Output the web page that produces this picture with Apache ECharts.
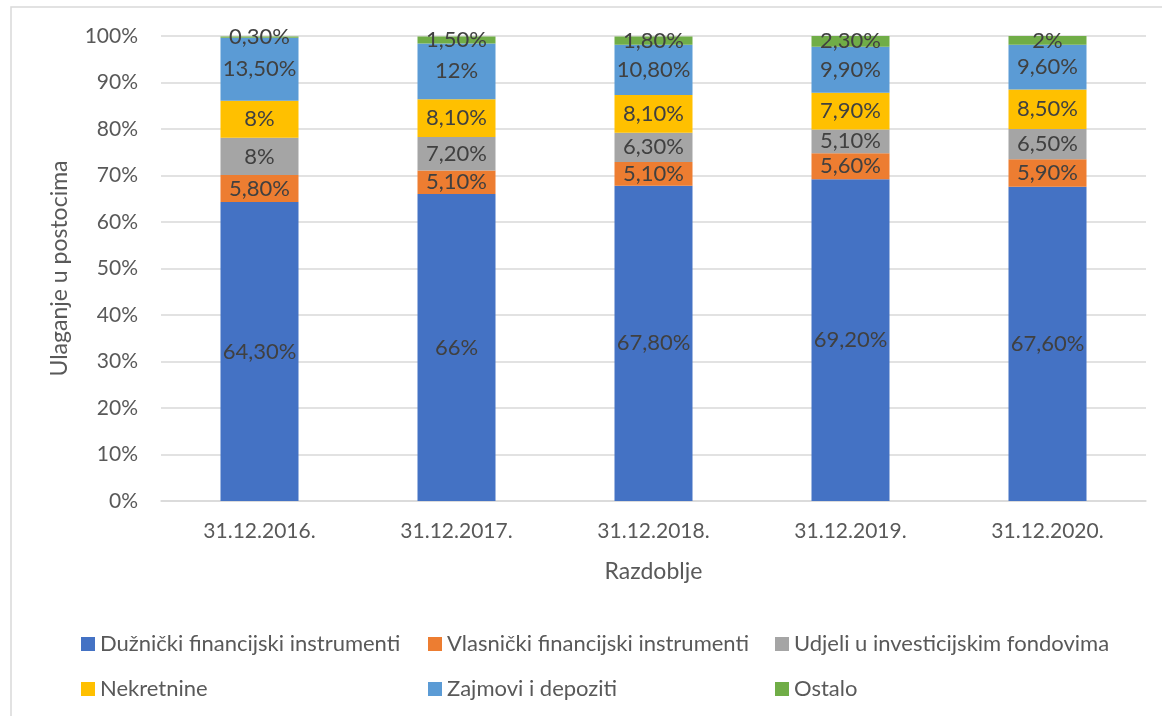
<!DOCTYPE html>
<html>

<head>
  <meta charset="utf-8">
  <title>Ulaganje u postocima</title>
  <script src="https://cdn.jsdelivr.net/npm/echarts@6/dist/echarts.min.js"></script>
  <style>
    body {
      margin: 0;
      padding: 0;
      background-color: #fff;
    }

    #main {
      width: 1162px;
      height: 716px;
    }
  </style>
</head>

<body>
  <div id="main"></div>

  <script type="text/javascript">
    var categories = ['31.12.2016.', '31.12.2017.', '31.12.2018.', '31.12.2019.', '31.12.2020.'];
    var seriesNames = [
      'Dužnički financijski instrumenti',
      'Vlasnički financijski instrumenti',
      'Udjeli u investicijskim fondovima',
      'Nekretnine',
      'Zajmovi i depoziti',
      'Ostalo'
    ];
    var duznicki = [64.3, 66, 67.8, 69.2, 67.6];
    var vlasnicki = [5.8, 5.1, 5.1, 5.6, 5.9];
    var udjeli = [8, 7.2, 6.3, 5.1, 6.5];
    var nekretnine = [8, 8.1, 8.1, 7.9, 8.5];
    var zajmovi = [13.5, 12, 10.8, 9.9, 9.6];
    var ostalo = [0.3, 1.5, 1.8, 2.3, 2];
    var yTicks = [0, 10, 20, 30, 40, 50, 60, 70, 80, 90, 100];

    var colors = ['#4472C4', '#ED7D31', '#A5A5A5', '#FFC000', '#5B9BD5', '#70AD47'];
    var font = 'Lato, "Open Sans", sans-serif';

    // 64.3 -> "64,30%", 66 -> "66%"
    function fmt(v) {
      if (Number.isInteger(v)) return v + '%';
      return v.toFixed(2).replace('.', ',') + '%';
    }

    var allData = [duznicki, vlasnicki, udjeli, nekretnine, zajmovi, ostalo];
    var series = [];
    for (var i = 0; i < allData.length; i++) {
      series.push({
        name: seriesNames[i],
        type: 'bar',
        stack: 'total',
        barWidth: 78,
        data: allData[i],
        itemStyle: { color: colors[i] },
        label: {
          show: true,
          position: 'inside',
          color: '#404040',
          fontFamily: font,
          fontSize: 22,
          formatter: function (p) { return fmt(p.value); }
        }
      });
    }

    function legendBlock(left, names) {
      return {
        orient: 'vertical',
        left: left,
        top: 628,
        itemGap: 23,
        itemWidth: 14,
        itemHeight: 14,
        icon: 'rect',
        data: names,
        textStyle: { color: '#595959', fontFamily: font, fontSize: 22 }
      };
    }

    var chart = echarts.init(document.getElementById('main'));
    chart.setOption({
      animation: false,
      backgroundColor: '#fff',
      graphic: [{
        type: 'rect',
        shape: { x: 11, y: 7, width: 1300, height: 900 },
        style: { fill: 'none', stroke: '#d9d9d9', lineWidth: 1.5 },
        silent: true
      }],
      legend: [
        legendBlock(76, [seriesNames[0], seriesNames[3]]),
        legendBlock(423, [seriesNames[1], seriesNames[4]]),
        legendBlock(770, [seriesNames[2], seriesNames[5]])
      ],
      grid: { left: 161, right: 16, top: 36, bottom: 215 },
      xAxis: {
        type: 'category',
        data: categories,
        name: 'Razdoblje',
        nameLocation: 'middle',
        nameGap: 59,
        nameTextStyle: { color: '#595959', fontFamily: font, fontSize: 23 },
        axisLine: { lineStyle: { color: '#d9d9d9', width: 1.5 } },
        axisTick: { show: false },
        axisLabel: { color: '#595959', fontFamily: font, fontSize: 21, margin: 20 }
      },
      yAxis: {
        type: 'value',
        min: yTicks[0],
        max: yTicks[yTicks.length - 1],
        interval: yTicks[1] - yTicks[0],
        name: 'Ulaganje u postocima',
        nameLocation: 'middle',
        nameRotate: 90,
        nameGap: 90,
        nameTextStyle: { color: '#595959', fontFamily: font, fontSize: 23 },
        axisLine: { show: false },
        axisTick: { show: false },
        splitLine: { lineStyle: { color: '#d9d9d9', width: 1.5 } },
        axisLabel: { color: '#595959', fontFamily: font, fontSize: 21, margin: 23, formatter: '{value}%' }
      },
      series: series
    });
  </script>
</body>

</html>
